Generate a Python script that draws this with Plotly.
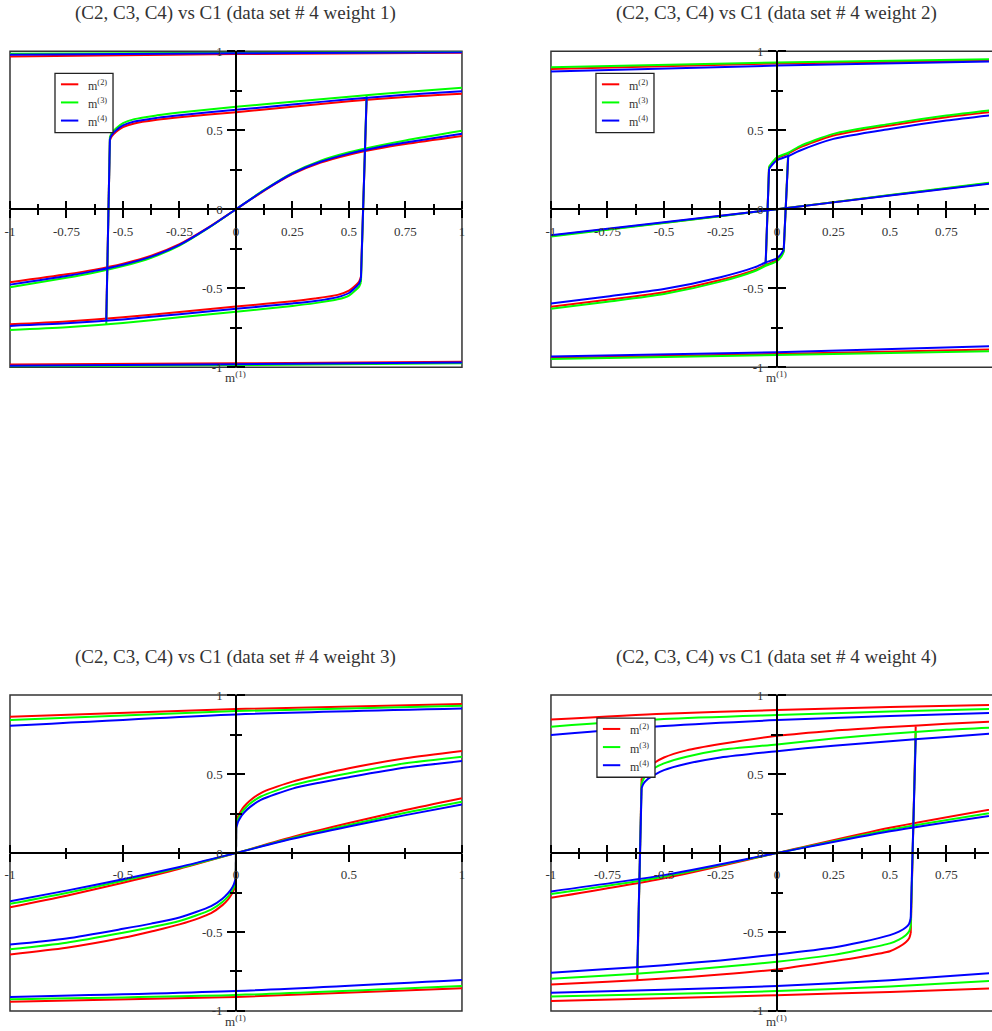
import plotly.graph_objects as go

W, H = 992, 1031

TITLES = [
    "(C2, C3, C4) vs C1 (data set # 4 weight 1)",
    "(C2, C3, C4) vs C1 (data set # 4 weight 2)",
    "(C2, C3, C4) vs C1 (data set # 4 weight 3)",
    "(C2, C3, C4) vs C1 (data set # 4 weight 4)",
]
SERIES = ["m<sup>(2)</sup>", "m<sup>(3)</sup>", "m<sup>(4)</sup>"]
COLORS = ["#ff0000", "#00ff00", "#0000ff"]
X_LABEL = "m<sup>(1)</sup>"

# tick values / labels
XT_Q = [-1, -0.75, -0.5, -0.25, 0, 0.25, 0.5, 0.75, 1]
XT_Q_TXT = ["-1", "-0.75", "-0.5", "-0.25", "0", "0.25", "0.5", "0.75", "1"]
XM_Q = [-0.875, -0.625, -0.375, -0.125, 0.125, 0.375, 0.625, 0.875]
XT_H = [-1, -0.5, 0, 0.5, 1]
XT_H_TXT = ["-1", "-0.5", "0", "0.5", "1"]
XM_H = [-0.75, -0.25, 0.25, 0.75]

# ---------------- panel 1 (weight 1) : [red, green, blue] ----------------
P1_FLAT_X = [-1, 0, 1]
P1_TOP_Y = [[0.966, 0.982, 0.99], [0.984, 0.99, 0.995], [0.977, 0.987, 0.993]]
P1_BOT_Y = [[-0.982, -0.975, -0.965], [-0.995, -0.986, -0.975], [-0.99, -0.98, -0.97]]
P1_S_X = [-1, -0.75, -0.625, -0.5, -0.375, -0.25, -0.125, 0,
          0.125, 0.25, 0.375, 0.5, 0.625, 0.75, 1]
P1_S_Y = [
    [-0.462, -0.412, -0.382, -0.344, -0.294, -0.221, -0.118, 0,
     0.118, 0.222, 0.295, 0.345, 0.383, 0.413, 0.464],
    [-0.494, -0.434, -0.4, -0.36, -0.307, -0.23, -0.122, 0,
     0.122, 0.23, 0.307, 0.36, 0.4, 0.435, 0.496],
    [-0.477, -0.423, -0.39, -0.351, -0.3, -0.226, -0.12, 0,
     0.12, 0.226, 0.3, 0.352, 0.391, 0.422, 0.477],
]
P1_UP_X = [-0.558, -0.55, -0.53, -0.5, -0.45, -0.35, -0.25, 0, 0.25, 0.5, 0.75, 1]
P1_UP_Y = [
    [0.435, 0.46, 0.49, 0.519, 0.543, 0.566, 0.582, 0.614, 0.648, 0.683, 0.71, 0.73],
    [0.456, 0.483, 0.513, 0.545, 0.57, 0.594, 0.612, 0.648, 0.68, 0.712, 0.742, 0.768],
    [0.445, 0.47, 0.5, 0.53, 0.555, 0.578, 0.595, 0.629, 0.662, 0.696, 0.724, 0.747],
]
P1_LO_X = [-1, -0.75, -0.5, -0.25, 0, 0.25, 0.35, 0.45, 0.5, 0.525, 0.545, 0.553]
P1_LO_Y = [
    [-0.728, -0.71, -0.684, -0.65, -0.616, -0.582, -0.565, -0.542, -0.515, -0.487, -0.458, -0.426],
    [-0.764, -0.747, -0.72, -0.684, -0.648, -0.612, -0.594, -0.57, -0.546, -0.517, -0.49, -0.462],
    [-0.738, -0.722, -0.697, -0.664, -0.63, -0.596, -0.58, -0.556, -0.53, -0.5, -0.47, -0.437],
]
P1_JL_X = [-0.574, -0.558]
P1_JL_Y = [[-0.692, 0.435], [-0.73, 0.456], [-0.705, 0.445]]
P1_JR_X = [0.553, 0.578]
P1_JR_Y = [[-0.426, 0.692], [-0.462, 0.721], [-0.437, 0.705]]

# ---------------- panel 2 (weight 2) ----------------
P2_FLAT_X = [-1, 0, 1]
P2_TOP_Y = [[0.888, 0.922, 0.943], [0.899, 0.928, 0.95], [0.871, 0.909, 0.937]]
P2_BOT_Y = [[-0.941, -0.916, -0.886], [-0.947, -0.922, -0.897], [-0.932, -0.905, -0.865]]
P2_LIN_X = [-1, -0.5, 0, 0.5, 1]
P2_LIN_Y = [
    [-0.167, -0.085, 0, 0.088, 0.175],
    [-0.172, -0.087, 0, 0.09, 0.178],
    [-0.165, -0.083, 0, 0.087, 0.172],
]
P2_UP_X = [-0.035, -0.02, 0, 0.05, 0.1, 0.25, 0.5, 0.75, 1]
P2_UP_Y = [
    [0.265, 0.293, 0.322, 0.352, 0.39, 0.466, 0.53, 0.582, 0.623],
    [0.27, 0.298, 0.328, 0.358, 0.398, 0.477, 0.54, 0.593, 0.635],
    [0.255, 0.283, 0.31, 0.337, 0.37, 0.445, 0.508, 0.561, 0.603],
]
P2_LO_X = [-1, -0.75, -0.5, -0.25, -0.1, -0.05, 0, 0.02, 0.03]
P2_LO_Y = [
    [-0.617, -0.573, -0.525, -0.448, -0.385, -0.352, -0.322, -0.292, -0.265],
    [-0.63, -0.585, -0.536, -0.458, -0.392, -0.358, -0.328, -0.298, -0.27],
    [-0.597, -0.552, -0.505, -0.43, -0.368, -0.337, -0.31, -0.28, -0.255],
]
P2_JL_X = [-0.05, -0.035]
P2_JL_Y = [[-0.352, 0.265], [-0.358, 0.27], [-0.337, 0.255]]
P2_JR_X = [0.03, 0.05]
P2_JR_Y = [[-0.265, 0.352], [-0.27, 0.358], [-0.255, 0.337]]

# ---------------- panel 3 (weight 3) ----------------
P3_FLAT_X = [-1, 0, 1]
P3_TOP_Y = [[0.863, 0.912, 0.943], [0.842, 0.899, 0.933], [0.806, 0.878, 0.916]]
P3_BOT_Y = [[-0.941, -0.912, -0.857], [-0.926, -0.899, -0.842], [-0.912, -0.874, -0.804]]
P3_NEG_X = [-1, -0.75, -0.5, -0.375, -0.25, -0.11, -0.06, -0.035, -0.02, -0.01, -0.001]
P3_NEG_Y = [
    [-0.642, -0.6, -0.537, -0.497, -0.452, -0.38, -0.33, -0.293, -0.262, -0.235, -0.19],
    [-0.61, -0.568, -0.505, -0.47, -0.43, -0.358, -0.31, -0.274, -0.245, -0.218, -0.175],
    [-0.58, -0.541, -0.48, -0.447, -0.408, -0.336, -0.289, -0.254, -0.226, -0.2, -0.16],
]
P3_POS_X = [0.001, 0.01, 0.02, 0.035, 0.06, 0.11, 0.25, 0.375, 0.5, 0.75, 1]
P3_POS_Y = [
    [0.19, 0.235, 0.262, 0.293, 0.33, 0.38, 0.452, 0.497, 0.537, 0.6, 0.646],
    [0.175, 0.218, 0.245, 0.274, 0.31, 0.358, 0.43, 0.47, 0.505, 0.568, 0.61],
    [0.16, 0.2, 0.226, 0.254, 0.289, 0.336, 0.408, 0.447, 0.48, 0.541, 0.583],
]
P3_MID_X = [-0.001, 0, 0.001]
P3_MID_Y = [[-0.19, 0, 0.19], [-0.175, 0, 0.175], [-0.16, 0, 0.16]]
P3_GEN_X = [-1, -0.75, -0.5, -0.25, 0, 0.25, 0.5, 0.75, 1]
P3_GEN_Y = [
    [-0.343, -0.27, -0.188, -0.1, 0, 0.102, 0.19, 0.272, 0.347],
    [-0.322, -0.253, -0.176, -0.094, 0, 0.095, 0.178, 0.255, 0.325],
    [-0.305, -0.238, -0.166, -0.088, 0, 0.09, 0.168, 0.24, 0.307],
]

# ---------------- panel 4 (weight 4) ----------------
P4_FLAT_X = [-1, -0.5, 0, 0.5, 1]
P4_TOP_Y = [
    [0.845, 0.882, 0.905, 0.924, 0.94],
    [0.8, 0.848, 0.874, 0.896, 0.914],
    [0.748, 0.805, 0.842, 0.868, 0.889],
]
P4_BOT_Y = [
    [-0.937, -0.92, -0.9, -0.88, -0.855],
    [-0.909, -0.893, -0.874, -0.845, -0.805],
    [-0.884, -0.865, -0.842, -0.805, -0.755],
]
P4_LIN_X = [-1, -0.5, 0, 0.5, 1]
P4_LIN_Y = [
    [-0.284, -0.16, 0, 0.16, 0.29],
    [-0.26, -0.15, 0, 0.148, 0.266],
    [-0.243, -0.14, 0, 0.138, 0.248],
]
P4_UP_X = [-0.599, -0.59, -0.57, -0.54, -0.5, -0.4, -0.25, 0, 0.25, 0.5, 0.75, 1]
P4_UP_Y = [
    [0.47, 0.5, 0.535, 0.573, 0.605, 0.65, 0.69, 0.742, 0.775, 0.798, 0.818, 0.836],
    [0.44, 0.47, 0.505, 0.54, 0.568, 0.61, 0.653, 0.688, 0.725, 0.755, 0.78, 0.798],
    [0.411, 0.44, 0.47, 0.497, 0.525, 0.565, 0.605, 0.645, 0.68, 0.708, 0.735, 0.762],
]
P4_LO_X = [-1, -0.75, -0.5, -0.25, 0, 0.25, 0.37, 0.5, 0.54, 0.57, 0.585, 0.592]
P4_LO_Y = [
    [-0.832, -0.815, -0.795, -0.77, -0.737, -0.685, -0.658, -0.622, -0.595, -0.565, -0.54, -0.506],
    [-0.796, -0.776, -0.752, -0.722, -0.688, -0.645, -0.612, -0.572, -0.548, -0.52, -0.495, -0.464],
    [-0.758, -0.735, -0.71, -0.68, -0.642, -0.598, -0.565, -0.52, -0.498, -0.472, -0.448, -0.411],
]
P4_JL_X = [-0.618, -0.599]
P4_JL_Y = [[-0.806, 0.47], [-0.77, 0.44], [-0.725, 0.411]]
P4_JR_X = [0.592, 0.614]
P4_JR_Y = [[-0.506, 0.802], [-0.464, 0.763], [-0.411, 0.72]]


def segs_to_xy(segs):
    X, Y = [], []
    for xs, ys in segs:
        X += list(xs) + [None]
        Y += list(ys) + [None]
    return X, Y


def panel_segments(p, c):
    if p == 0:
        return [(P1_FLAT_X, P1_TOP_Y[c]), (P1_FLAT_X, P1_BOT_Y[c]), (P1_S_X, P1_S_Y[c]),
                (P1_UP_X, P1_UP_Y[c]), (P1_LO_X, P1_LO_Y[c])], \
               [(P1_JL_X, P1_JL_Y[c]), (P1_JR_X, P1_JR_Y[c])]
    if p == 1:
        return [(P2_FLAT_X, P2_TOP_Y[c]), (P2_FLAT_X, P2_BOT_Y[c]), (P2_LIN_X, P2_LIN_Y[c]),
                (P2_UP_X, P2_UP_Y[c]), (P2_LO_X, P2_LO_Y[c])], \
               [(P2_JL_X, P2_JL_Y[c]), (P2_JR_X, P2_JR_Y[c])]
    if p == 2:
        return [(P3_FLAT_X, P3_TOP_Y[c]), (P3_FLAT_X, P3_BOT_Y[c]), (P3_GEN_X, P3_GEN_Y[c]),
                (P3_NEG_X, P3_NEG_Y[c]), (P3_POS_X, P3_POS_Y[c])], \
               [(P3_MID_X, P3_MID_Y[c])]
    return [(P4_FLAT_X, P4_TOP_Y[c]), (P4_FLAT_X, P4_BOT_Y[c]), (P4_LIN_X, P4_LIN_Y[c]),
            (P4_UP_X, P4_UP_Y[c]), (P4_LO_X, P4_LO_Y[c])], \
           [(P4_JL_X, P4_JL_Y[c]), (P4_JR_X, P4_JR_Y[c])]


# ---------------- layout geometry (pixels, as measured on the target) ----------------
# small correction for the offset/scale observed between layout pixels and the picture
def cx(v):
    return (v - 4.0) / 0.992


def cy(v):
    return (v - 6.5) / 0.986


LEFT_X = (cx(9), cx(461))
RIGHT_X = (cx(550), cx(1002))
TOP_Y = (cy(50.7), cy(367))
BOT_Y = (cy(695), cy(1011))
PANEL_BOX = [(LEFT_X, TOP_Y), (RIGHT_X, TOP_Y), (LEFT_X, BOT_Y), (RIGHT_X, BOT_Y)]
PANEL_XT = [(XT_Q, XT_Q_TXT, XM_Q), (XT_Q, XT_Q_TXT, XM_Q), (XT_H, XT_H_TXT, XM_H), (XT_Q, XT_Q_TXT, XM_Q)]
# legend boxes (top-left corner in px) for panels with a legend
LEGEND_POS = {0: (cx(54), cy(73)), 1: (cx(595), cy(73)), 3: (cx(596), cy(718))}
LEG_W, LEG_H = 58.5, 60

FONT = "Liberation Serif"
TXT = "#333333"


def px_x(v):
    return v / W


def px_y(v):
    return 1 - v / H


fig = go.Figure()
layout = dict(width=W, height=H, margin=dict(l=0, r=0, t=0, b=0),
              paper_bgcolor="white", plot_bgcolor="white", showlegend=False,
              annotations=[], shapes=[])

for p in range(4):
    (px0, px1), (py0, py1) = PANEL_BOX[p]
    vis_px1 = min(px1, W)
    dom_x = [px0 / W, vis_px1 / W]
    dom_y = [1 - py1 / H, 1 - py0 / H]
    xr = [-1, -1 + 2 * (vis_px1 - px0) / (px1 - px0)]
    xzero = (px0 + (px1 - px0) / 2) / W
    yzero = (dom_y[0] + dom_y[1]) / 2
    n = p + 1
    no = p + 5
    xs = "" if n == 1 else str(n)
    xt, xtt, xm = PANEL_XT[p]

    common = dict(showgrid=False, zeroline=False, tickcolor="black", tickwidth=1.5,
                  tickfont=dict(family=FONT, size=13, color=TXT), fixedrange=True)
    minor_x = dict(tickmode="array", tickvals=xm, ticks="outside", ticklen=5,
                   tickwidth=1.5, tickcolor="black", showgrid=False)
    minor_y = dict(tickmode="array", tickvals=XM_H, ticks="outside", ticklen=5,
                   tickwidth=1.5, tickcolor="black", showgrid=False)
    layout["xaxis" + xs] = dict(domain=dom_x, range=xr, anchor="free", position=yzero,
                                showline=True, linecolor="black", linewidth=1.5,
                                ticks="outside", ticklen=8, tickmode="array",
                                tickvals=xt, ticktext=xtt, ticklabelstandoff=2,
                                minor=minor_x, **common)
    layout["yaxis" + xs] = dict(domain=dom_y, range=[-1, 1], anchor="free", position=xzero,
                                showline=True, linecolor="black", linewidth=1.5,
                                ticks="outside", ticklen=8, tickmode="array",
                                tickvals=XT_H, ticktext=XT_H_TXT, ticklabelstandoff=2,
                                minor=minor_y, **common)
    layout["xaxis" + str(no)] = dict(range=xr, anchor="free", position=yzero,
                                     overlaying="x" + xs, side="top", showline=False,
                                     ticks="outside", ticklen=8, tickmode="array",
                                     tickvals=xt, showticklabels=False,
                                     minor=minor_x, **common)
    layout["yaxis" + str(no)] = dict(range=[-1, 1], anchor="free", position=xzero,
                                     overlaying="y" + xs, side="right", showline=False,
                                     ticks="outside", ticklen=8, tickmode="array",
                                     tickvals=XT_H, showticklabels=False,
                                     minor=minor_y, **common)

    # frame
    layout["shapes"].append(dict(type="rect", xref="x" + xs + " domain", yref="y" + xs + " domain",
                                 x0=0, x1=2 / (xr[1] - xr[0]), y0=0, y1=1,
                                 line=dict(color="#333333", width=1.5), layer="below"))
    # title
    layout["annotations"].append(dict(text=TITLES[p], x=0, xref="x" + xs, y=1,
                                      yref="y" + xs + " domain", yanchor="middle", yshift=38,
                                      showarrow=False,
                                      font=dict(family=FONT, size=19, color=TXT)))
    layout["annotations"].append(dict(text=X_LABEL, x=0, xref="x" + xs, y=0,
                                      yref="y" + xs + " domain", yanchor="top", yshift=0,
                                      showarrow=False,
                                      font=dict(family=FONT, size=13, color=TXT)))

    for c in range(3):
        smooth, straight = panel_segments(p, c)
        X, Y = segs_to_xy(smooth)
        fig.add_trace(go.Scatter(x=X, y=Y, mode="lines", name=SERIES[c],
                                 line=dict(color=COLORS[c], width=2, shape="spline", smoothing=0.7),
                                 xaxis="x" + xs, yaxis="y" + xs, hoverinfo="skip",
                                 legendgroup=f"p{n}c{c}"))
        X2, Y2 = segs_to_xy(straight)
        fig.add_trace(go.Scatter(x=X2, y=Y2, mode="lines", name=SERIES[c],
                                 line=dict(color=COLORS[c], width=2),
                                 xaxis="x" + xs, yaxis="y" + xs, hoverinfo="skip",
                                 legendgroup=f"p{n}c{c}"))
    # dummy trace so that the overlay (crossing-tick) axes are drawn
    fig.add_trace(go.Scatter(x=[0], y=[0], mode="lines", xaxis="x" + str(no),
                             yaxis="y" + str(no), hoverinfo="skip", line=dict(width=0)))

    # legend box (drawn above the curves, like the original)
    if p in LEGEND_POS:
        lx, ly = LEGEND_POS[p]
        layout["shapes"].append(dict(type="rect", xref="paper", yref="paper",
                                     x0=px_x(lx), x1=px_x(lx + LEG_W),
                                     y0=px_y(ly + LEG_H), y1=px_y(ly),
                                     fillcolor="white", line=dict(color="#222222", width=1.3),
                                     layer="above"))
        for c in range(3):
            yy = ly + 11 + 18.4 * c
            layout["shapes"].append(dict(type="line", xref="paper", yref="paper",
                                         x0=px_x(lx + 6), x1=px_x(lx + 23.5),
                                         y0=px_y(yy), y1=px_y(yy),
                                         line=dict(color=COLORS[c], width=2), layer="above"))
            layout["annotations"].append(dict(text=SERIES[c], xref="paper", yref="paper",
                                              x=px_x(lx + 31), y=px_y(yy + 1),
                                              xanchor="left", yanchor="middle",
                                              showarrow=False,
                                              font=dict(family=FONT, size=12, color=TXT)))

fig.update_layout(**layout)
fig.write_html(
    "out.html",
    config={"displayModeBar": False},
    post_script=(
        "document.documentElement.style.margin='0';document.body.style.margin='0';"
        "document.documentElement.style.overflow='hidden';document.body.style.overflow='hidden';"
        "var gd=document.getElementById('{plot_id}');gd.style.position='fixed';"
        "gd.style.left='0px';gd.style.top='0px';"
    ),
)
